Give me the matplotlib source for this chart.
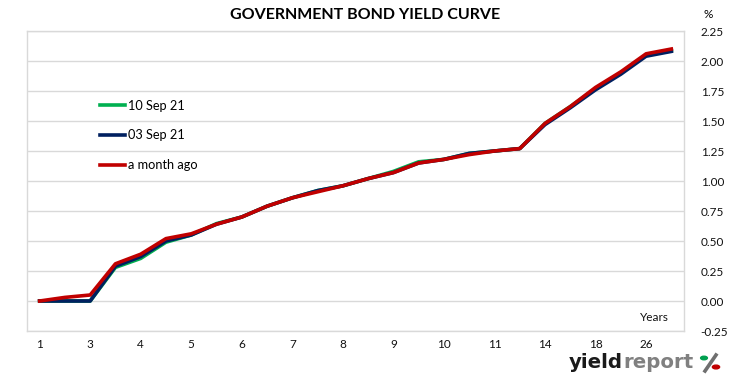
import matplotlib.pyplot as plt
from matplotlib.patches import Circle
from matplotlib.lines import Line2D

plt.rcParams['font.family'] = ['Lato', 'DejaVu Sans']

# x categories (every other point labelled)
tick_labels = ["1", "3", "4", "5", "6", "7", "8", "9", "10", "11", "14", "18", "26"]

sep10 = [0.00, 0.00, 0.00, 0.28, 0.355, 0.49, 0.55, 0.645, 0.70, 0.79, 0.86, 0.92,
         0.96, 1.02, 1.08, 1.16, 1.18, 1.23, 1.25, 1.27, 1.48, 1.62, 1.77, 1.90,
         2.05, 2.09]
sep03 = [0.00, 0.00, 0.00, 0.29, 0.37, 0.50, 0.55, 0.64, 0.70, 0.79, 0.86, 0.92,
         0.96, 1.02, 1.07, 1.15, 1.18, 1.23, 1.25, 1.27, 1.47, 1.61, 1.76, 1.89,
         2.04, 2.08]
month_ago = [0.00, 0.03, 0.05, 0.31, 0.39, 0.52, 0.56, 0.64, 0.70, 0.79, 0.86, 0.91,
             0.96, 1.02, 1.07, 1.15, 1.18, 1.22, 1.25, 1.27, 1.48, 1.62, 1.78, 1.91,
             2.06, 2.10]

y_ticks = [-0.25, 0.00, 0.25, 0.50, 0.75, 1.00, 1.25, 1.50, 1.75, 2.00, 2.25]

fig = plt.figure(figsize=(7.31, 3.81), dpi=100, facecolor='w')
ax = fig.add_axes([27 / 731, 1 - 331 / 381, 657 / 731, 300 / 381])

x = list(range(len(month_ago)))
ax.plot(x, sep10, color='#00B050', lw=2.6, label='10 Sep 21', solid_joinstyle='round')
ax.plot(x, sep03, color='#002060', lw=2.6, label='03 Sep 21', solid_joinstyle='round')
ax.plot(x, month_ago, color='#C00000', lw=2.6, label='a month ago', solid_joinstyle='round')

ax.set_xlim(-0.5, len(x) - 0.5)
ax.set_ylim(-0.25, 2.25)
ax.set_yticks(y_ticks)
ax.set_yticklabels([f"{v:.2f}" for v in y_ticks])
ax.yaxis.tick_right()
ax.set_xticks(x[::2])
ax.set_xticklabels(tick_labels)
ax.tick_params(length=0, labelsize=8.5, colors='#111111')
ax.tick_params(axis='y', pad=12)
ax.tick_params(axis='x', pad=6)
for lab in ax.get_yticklabels():
    lab.set_horizontalalignment('left')
ax.grid(axis='y', color='#D9D9D9', lw=1)
ax.set_axisbelow(True)
for s in ax.spines.values():
    s.set_color('#D9D9D9')
    s.set_linewidth(1)

ax.legend(loc='upper left', bbox_to_anchor=(0.093, 0.81), frameon=False,
          fontsize=9.2, handlelength=2.0, handletextpad=0.2, labelspacing=1.4)

ax.text(0.955, 0.045, 'Years', transform=ax.transAxes, fontsize=8.5,
        ha='center', va='center', color='#111111')

fig.text(365 / 731, 1 - 15 / 381, 'GOVERNMENT BOND YIELD CURVE', ha='center',
         va='center', fontsize=11.5, fontweight='bold')
fig.text(708 / 731, 1 - 14 / 381, '%', ha='center', va='center', fontsize=8.5)

# logo
t1 = fig.text(569 / 731, 1 - 363 / 381, 'yield', ha='left', va='center', fontsize=14.2,
              fontweight='bold', color='#1a1a1a', family='DejaVu Sans')
fig.canvas.draw()
bb = t1.get_window_extent()
fig.text(bb.x1 / 731, 1 - 363 / 381, 'report', ha='left', va='center', fontsize=14.2,
         fontweight='bold', color='#808080', family='DejaVu Sans')
fig.lines.append(Line2D([705 / 731, 716 / 731], [1 - 371 / 381, 1 - 355 / 381],
                        transform=fig.transFigure, color='#6f6f6f', lw=2.6))
fig.patches.append(Circle((704 / 731, 1 - 358 / 381), 3.4 / 731, color='#00A050',
                          transform=fig.transFigure))
fig.patches.append(Circle((716 / 731, 1 - 367 / 381), 3.6 / 731, color='#C00000',
                          transform=fig.transFigure))

plt.savefig('out.png', dpi=100)
